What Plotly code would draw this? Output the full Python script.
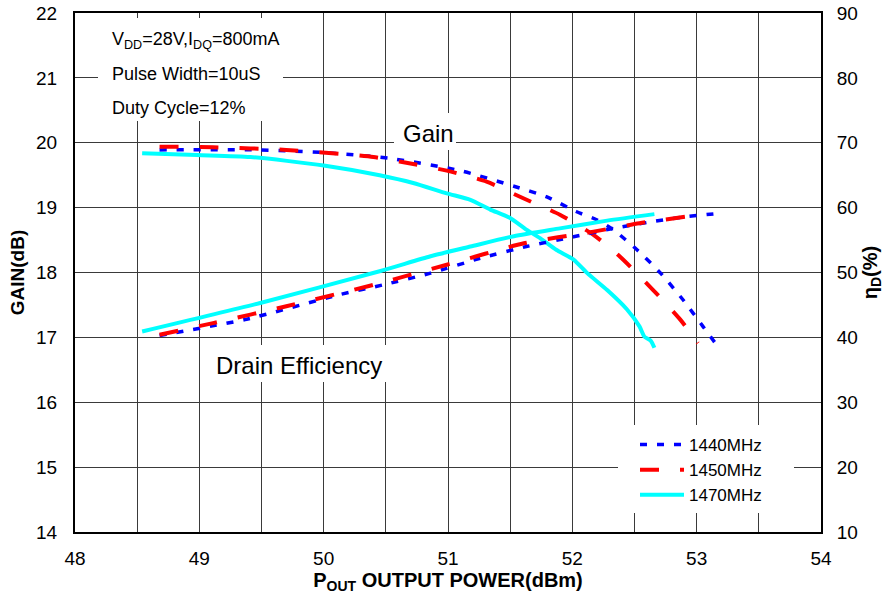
import plotly.graph_objects as go

# ---- data ----
# Gain (dB) vs Pout (dBm)
p_gain_1440 = [48.68, 49.43, 50.00, 50.53, 51.10, 51.53, 51.79, 52.03, 52.20, 52.33, 52.52, 52.71, 52.89, 53.05, 53.17]
g_1440 = [19.89, 19.89, 19.85, 19.76, 19.57, 19.33, 19.17, 18.94, 18.81, 18.66, 18.35, 17.99, 17.58, 17.17, 16.86]

p_gain_1450 = [48.68, 49.11, 49.70, 50.40, 50.61, 50.99, 51.31, 51.61, 51.90, 52.17, 52.38, 52.65, 52.87, 53.01]
g_1450 = [19.94, 19.93, 19.89, 19.78, 19.71, 19.57, 19.40, 19.14, 18.89, 18.58, 18.25, 17.73, 17.27, 16.91]

p_gain_1470 = [48.54, 48.98, 49.41, 50.00, 50.45, 50.72, 50.99, 51.18, 51.34, 51.50, 51.63, 51.74, 51.87, 52.01, 52.12, 52.28, 52.44, 52.54, 52.58, 52.63, 52.66]
g_1470 = [19.84, 19.81, 19.78, 19.65, 19.50, 19.38, 19.22, 19.12, 18.97, 18.84, 18.66, 18.53, 18.35, 18.20, 17.99, 17.73, 17.43, 17.17, 17.01, 16.95, 16.84]

# Drain efficiency (%) vs Pout (dBm)
p_eff_1440 = [48.68, 49.38, 50.13, 50.48, 50.86, 51.26, 51.63, 52.01, 52.33, 52.60, 52.87, 53.17]
e_1440 = [40.3, 42.8, 46.6, 48.1, 49.9, 52.2, 54.0, 55.5, 56.8, 57.7, 58.5, 59.1]

p_eff_1450 = [48.68, 49.11, 49.70, 50.40, 50.99, 51.61, 52.17, 52.54, 52.91]
e_1450 = [40.4, 42.2, 44.8, 48.1, 51.2, 54.5, 56.3, 57.6, 58.6]

p_eff_1470 = [48.54, 49.49, 50.45, 50.86, 51.18, 51.53, 51.90, 52.28, 52.66]
e_1470 = [40.9, 45.3, 50.2, 52.5, 54.0, 55.6, 56.8, 58.0, 59.0]

series_names = ["1440MHz", "1450MHz", "1470MHz"]
colors = ["#0000FF", "#FF0000", "#00FFFF"]
dashes = ["7px,10px", "19px,21px", "solid"]
widths = [3.5, 4, 4]

FONT = "Liberation Sans, Arial, sans-serif"

fig = go.Figure()

gain_sets = [(p_gain_1440, g_1440), (p_gain_1450, g_1450), (p_gain_1470, g_1470)]
eff_sets = [(p_eff_1440, e_1440), (p_eff_1450, e_1450), (p_eff_1470, e_1470)]

for i in range(3):
    px, py = gain_sets[i]
    fig.add_trace(go.Scatter(x=px, y=py, mode="lines", name=series_names[i],
                             line=dict(color=colors[i], width=widths[i], dash=dashes[i], shape="spline", smoothing=0.6),
                             legendgroup=series_names[i], showlegend=True))
for i in range(3):
    px, py = eff_sets[i]
    fig.add_trace(go.Scatter(x=px, y=py, mode="lines", name=series_names[i], yaxis="y2",
                             line=dict(color=colors[i], width=widths[i], dash=dashes[i], shape="spline", smoothing=0.6),
                             legendgroup=series_names[i], showlegend=False))

# plot-area pixel helpers (layout only)
L, R, T, B = 75, 821, 13, 532
def px2x(p):
    return (p - L) / (R - L)
def px2y(p):
    return (B - p) / (B - T)

def white_box(x0, x1, y0, y1):
    return dict(type="rect", xref="paper", yref="paper",
                x0=px2x(x0), x1=px2x(x1), y0=px2y(y1), y1=px2y(y0),
                fillcolor="white", line=dict(width=0), layer="above")

shapes = [
    white_box(98, 283, 18, 121),
    white_box(394, 456, 113, 150),
    white_box(205, 395, 345, 382),
    white_box(618, 794, 425, 513),
]

annotations = [
    dict(text="V<sub>DD</sub>=28V,I<sub>DQ</sub>=800mA", x=px2x(110), y=px2y(40), xanchor="left", yanchor="middle",
         font=dict(size=18, family=FONT, color="black")),
    dict(text="Pulse Width=10uS", x=px2x(110), y=px2y(74), xanchor="left", yanchor="middle",
         font=dict(size=18, family=FONT, color="black")),
    dict(text="Duty Cycle=12%", x=px2x(110), y=px2y(108), xanchor="left", yanchor="middle",
         font=dict(size=18, family=FONT, color="black")),
    dict(text="Gain", x=px2x(428), y=px2y(133), xanchor="center", yanchor="middle",
         font=dict(size=24, family=FONT, color="black")),
    dict(text="Drain Efficiency", x=px2x(299), y=px2y(365), xanchor="center", yanchor="middle",
         font=dict(size=24, family=FONT, color="black")),
]
for a in annotations:
    a.update(xref="paper", yref="paper", showarrow=False)

GRID = "#3a3a3a"

fig.update_layout(
    width=887, height=595,
    margin=dict(l=L, r=887 - R, t=T, b=595 - B),
    paper_bgcolor="white", plot_bgcolor="white",
    font=dict(family=FONT, size=19, color="black"),
    shapes=shapes,
    annotations=annotations,
    legend=dict(x=px2x(635), y=px2y(427), xanchor="left", yanchor="top",
                bgcolor="rgba(0,0,0,0)", font=dict(size=17, family=FONT, color="black"),
                tracegroupgap=0, itemwidth=44),
    xaxis=dict(range=[48, 54], tick0=48, dtick=1, showgrid=True, gridcolor=GRID, gridwidth=1,
               minor=dict(dtick=0.5, showgrid=True, gridcolor=GRID, gridwidth=1),
               showline=True, linecolor="black", linewidth=2, mirror=True,
               ticks="", ticklabelstandoff=8, zeroline=False, automargin=False,
               tickfont=dict(size=19, family=FONT),
               title=dict(text="<b>P<sub>OUT</sub> OUTPUT POWER(dBm)</b>", font=dict(size=20, family=FONT), standoff=1)),
    yaxis=dict(range=[14, 22], tick0=14, dtick=1, showgrid=True, gridcolor=GRID, gridwidth=1,
               showline=True, linecolor="black", linewidth=2, mirror=False,
               ticks="", ticklabelstandoff=12, zeroline=False, automargin=False,
               tickfont=dict(size=19, family=FONT),
               title=dict(text="<b>GAIN(dB)</b>", font=dict(size=19, family=FONT), standoff=6)),
    yaxis2=dict(range=[10, 90], tick0=10, dtick=10, overlaying="y", side="right", showgrid=False,
                showline=True, linecolor="black", linewidth=2,
                ticks="", ticklabelstandoff=10, zeroline=False, automargin=False,
                tickfont=dict(size=19, family=FONT),
                title=dict(text="<b>η<sub>D</sub>(%)</b>", font=dict(size=20, family=FONT), standoff=6)),
)

fig.write_html("out.html", config={"displayModeBar": False},
               post_script="document.body.style.margin='0';")
